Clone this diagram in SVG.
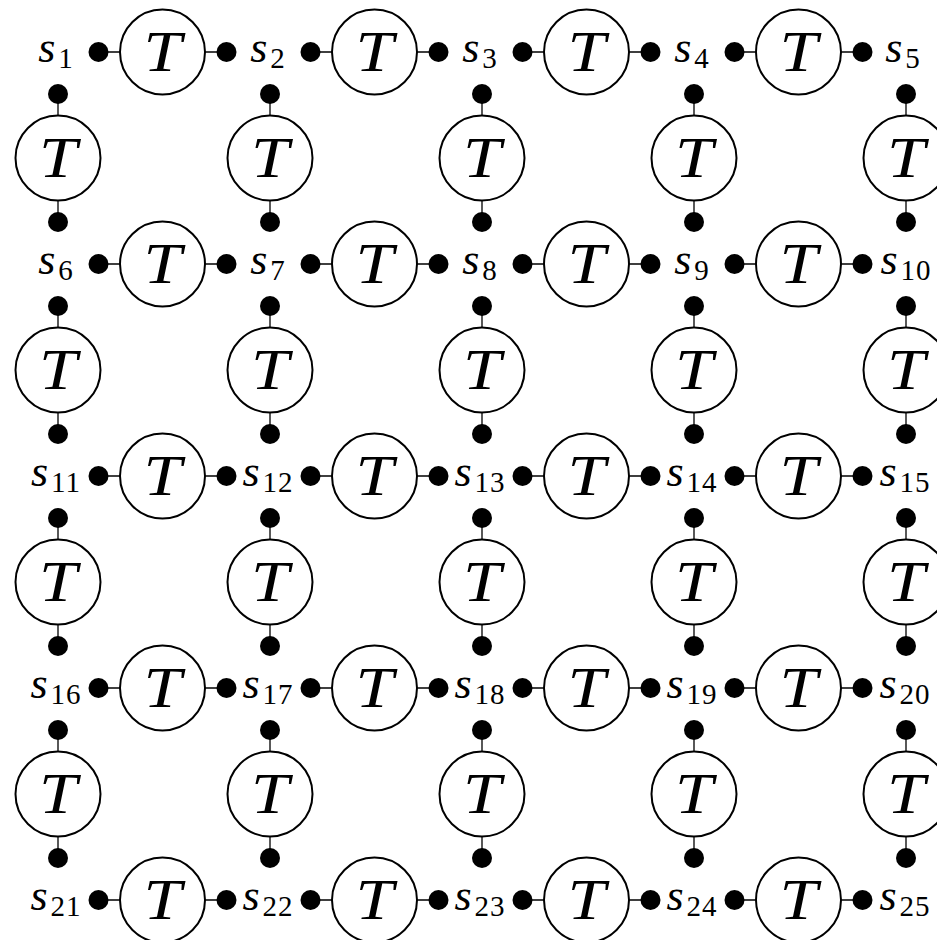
<svg xmlns="http://www.w3.org/2000/svg" width="937" height="940" viewBox="0 0 937 940">
  <defs>
    <style>
      .bg { fill: #ffffff; }
      .tensor .body { fill: #ffffff; stroke: #000000; stroke-width: 2; }
      .tensor .dot { fill: #000000; }
      .tensor text { font-family: "Liberation Serif", "DejaVu Serif", serif; font-style: italic; font-size: 58px; fill: #000000; text-anchor: middle; }
      .legs path { fill: none; stroke: #000000; stroke-width: 1.3; }
      .site text { font-family: "Liberation Serif", "DejaVu Serif", serif; fill: #000000; text-anchor: middle; }
      .site .var { font-style: italic; font-size: 44px; }
      .site .idx { font-size: 29px; letter-spacing: 1px; }
    </style>
  </defs>
  <rect class="bg" x="0" y="0" width="937" height="940"/>

  <!-- short legs joining each tensor to its open-index dots -->
  <g id="connectors" class="legs">
    <path d="M98.5 52H120M205 52H226.5M310.5 52H332M417 52H438.5M522.5 52H544M629 52H650.5M734.5 52H756M841 52H862.5"/>
    <path d="M98.5 264H120M205 264H226.5M310.5 264H332M417 264H438.5M522.5 264H544M629 264H650.5M734.5 264H756M841 264H862.5"/>
    <path d="M98.5 476H120M205 476H226.5M310.5 476H332M417 476H438.5M522.5 476H544M629 476H650.5M734.5 476H756M841 476H862.5"/>
    <path d="M98.5 688H120M205 688H226.5M310.5 688H332M417 688H438.5M522.5 688H544M629 688H650.5M734.5 688H756M841 688H862.5"/>
    <path d="M98.5 900H120M205 900H226.5M310.5 900H332M417 900H438.5M522.5 900H544M629 900H650.5M734.5 900H756M841 900H862.5"/>
    <path d="M58 94V115.5M58 200.5V222M58 306V327.5M58 412.5V434M58 518V539.5M58 624.5V646M58 730V751.5M58 836.5V858"/>
    <path d="M270 94V115.5M270 200.5V222M270 306V327.5M270 412.5V434M270 518V539.5M270 624.5V646M270 730V751.5M270 836.5V858"/>
    <path d="M482 94V115.5M482 200.5V222M482 306V327.5M482 412.5V434M482 518V539.5M482 624.5V646M482 730V751.5M482 836.5V858"/>
    <path d="M694 94V115.5M694 200.5V222M694 306V327.5M694 412.5V434M694 518V539.5M694 624.5V646M694 730V751.5M694 836.5V858"/>
    <path d="M906 94V115.5M906 200.5V222M906 306V327.5M906 412.5V434M906 518V539.5M906 624.5V646M906 730V751.5M906 836.5V858"/>
  </g>

  <!-- horizontal-bond tensors (rows of the lattice) -->
  <g id="th-0-0" class="tensor" transform="translate(162.5,52)"><circle class="body" r="42.5"/><text y="19" textLength="38" lengthAdjust="spacingAndGlyphs">T</text><circle class="dot" cx="-64" r="10"/><circle class="dot" cx="64" r="10"/></g>
  <g id="th-0-1" class="tensor" transform="translate(374.5,52)"><circle class="body" r="42.5"/><text y="19" textLength="38" lengthAdjust="spacingAndGlyphs">T</text><circle class="dot" cx="-64" r="10"/><circle class="dot" cx="64" r="10"/></g>
  <g id="th-0-2" class="tensor" transform="translate(586.5,52)"><circle class="body" r="42.5"/><text y="19" textLength="38" lengthAdjust="spacingAndGlyphs">T</text><circle class="dot" cx="-64" r="10"/><circle class="dot" cx="64" r="10"/></g>
  <g id="th-0-3" class="tensor" transform="translate(798.5,52)"><circle class="body" r="42.5"/><text y="19" textLength="38" lengthAdjust="spacingAndGlyphs">T</text><circle class="dot" cx="-64" r="10"/><circle class="dot" cx="64" r="10"/></g>

  <g id="th-1-0" class="tensor" transform="translate(162.5,264)"><circle class="body" r="42.5"/><text y="19" textLength="38" lengthAdjust="spacingAndGlyphs">T</text><circle class="dot" cx="-64" r="10"/><circle class="dot" cx="64" r="10"/></g>
  <g id="th-1-1" class="tensor" transform="translate(374.5,264)"><circle class="body" r="42.5"/><text y="19" textLength="38" lengthAdjust="spacingAndGlyphs">T</text><circle class="dot" cx="-64" r="10"/><circle class="dot" cx="64" r="10"/></g>
  <g id="th-1-2" class="tensor" transform="translate(586.5,264)"><circle class="body" r="42.5"/><text y="19" textLength="38" lengthAdjust="spacingAndGlyphs">T</text><circle class="dot" cx="-64" r="10"/><circle class="dot" cx="64" r="10"/></g>
  <g id="th-1-3" class="tensor" transform="translate(798.5,264)"><circle class="body" r="42.5"/><text y="19" textLength="38" lengthAdjust="spacingAndGlyphs">T</text><circle class="dot" cx="-64" r="10"/><circle class="dot" cx="64" r="10"/></g>

  <g id="th-2-0" class="tensor" transform="translate(162.5,476)"><circle class="body" r="42.5"/><text y="19" textLength="38" lengthAdjust="spacingAndGlyphs">T</text><circle class="dot" cx="-64" r="10"/><circle class="dot" cx="64" r="10"/></g>
  <g id="th-2-1" class="tensor" transform="translate(374.5,476)"><circle class="body" r="42.5"/><text y="19" textLength="38" lengthAdjust="spacingAndGlyphs">T</text><circle class="dot" cx="-64" r="10"/><circle class="dot" cx="64" r="10"/></g>
  <g id="th-2-2" class="tensor" transform="translate(586.5,476)"><circle class="body" r="42.5"/><text y="19" textLength="38" lengthAdjust="spacingAndGlyphs">T</text><circle class="dot" cx="-64" r="10"/><circle class="dot" cx="64" r="10"/></g>
  <g id="th-2-3" class="tensor" transform="translate(798.5,476)"><circle class="body" r="42.5"/><text y="19" textLength="38" lengthAdjust="spacingAndGlyphs">T</text><circle class="dot" cx="-64" r="10"/><circle class="dot" cx="64" r="10"/></g>

  <g id="th-3-0" class="tensor" transform="translate(162.5,688)"><circle class="body" r="42.5"/><text y="19" textLength="38" lengthAdjust="spacingAndGlyphs">T</text><circle class="dot" cx="-64" r="10"/><circle class="dot" cx="64" r="10"/></g>
  <g id="th-3-1" class="tensor" transform="translate(374.5,688)"><circle class="body" r="42.5"/><text y="19" textLength="38" lengthAdjust="spacingAndGlyphs">T</text><circle class="dot" cx="-64" r="10"/><circle class="dot" cx="64" r="10"/></g>
  <g id="th-3-2" class="tensor" transform="translate(586.5,688)"><circle class="body" r="42.5"/><text y="19" textLength="38" lengthAdjust="spacingAndGlyphs">T</text><circle class="dot" cx="-64" r="10"/><circle class="dot" cx="64" r="10"/></g>
  <g id="th-3-3" class="tensor" transform="translate(798.5,688)"><circle class="body" r="42.5"/><text y="19" textLength="38" lengthAdjust="spacingAndGlyphs">T</text><circle class="dot" cx="-64" r="10"/><circle class="dot" cx="64" r="10"/></g>

  <g id="th-4-0" class="tensor" transform="translate(162.5,900)"><circle class="body" r="42.5"/><text y="19" textLength="38" lengthAdjust="spacingAndGlyphs">T</text><circle class="dot" cx="-64" r="10"/><circle class="dot" cx="64" r="10"/></g>
  <g id="th-4-1" class="tensor" transform="translate(374.5,900)"><circle class="body" r="42.5"/><text y="19" textLength="38" lengthAdjust="spacingAndGlyphs">T</text><circle class="dot" cx="-64" r="10"/><circle class="dot" cx="64" r="10"/></g>
  <g id="th-4-2" class="tensor" transform="translate(586.5,900)"><circle class="body" r="42.5"/><text y="19" textLength="38" lengthAdjust="spacingAndGlyphs">T</text><circle class="dot" cx="-64" r="10"/><circle class="dot" cx="64" r="10"/></g>
  <g id="th-4-3" class="tensor" transform="translate(798.5,900)"><circle class="body" r="42.5"/><text y="19" textLength="38" lengthAdjust="spacingAndGlyphs">T</text><circle class="dot" cx="-64" r="10"/><circle class="dot" cx="64" r="10"/></g>

  <!-- vertical-bond tensors (columns of the lattice) -->
  <g id="tv-0-0" class="tensor" transform="translate(58,158)"><circle class="body" r="42.5"/><text y="19" textLength="38" lengthAdjust="spacingAndGlyphs">T</text><circle class="dot" cy="-64" r="10"/><circle class="dot" cy="64" r="10"/></g>
  <g id="tv-0-1" class="tensor" transform="translate(270,158)"><circle class="body" r="42.5"/><text y="19" textLength="38" lengthAdjust="spacingAndGlyphs">T</text><circle class="dot" cy="-64" r="10"/><circle class="dot" cy="64" r="10"/></g>
  <g id="tv-0-2" class="tensor" transform="translate(482,158)"><circle class="body" r="42.5"/><text y="19" textLength="38" lengthAdjust="spacingAndGlyphs">T</text><circle class="dot" cy="-64" r="10"/><circle class="dot" cy="64" r="10"/></g>
  <g id="tv-0-3" class="tensor" transform="translate(694,158)"><circle class="body" r="42.5"/><text y="19" textLength="38" lengthAdjust="spacingAndGlyphs">T</text><circle class="dot" cy="-64" r="10"/><circle class="dot" cy="64" r="10"/></g>
  <g id="tv-0-4" class="tensor" transform="translate(906,158)"><circle class="body" r="42.5"/><text y="19" textLength="38" lengthAdjust="spacingAndGlyphs">T</text><circle class="dot" cy="-64" r="10"/><circle class="dot" cy="64" r="10"/></g>

  <g id="tv-1-0" class="tensor" transform="translate(58,370)"><circle class="body" r="42.5"/><text y="19" textLength="38" lengthAdjust="spacingAndGlyphs">T</text><circle class="dot" cy="-64" r="10"/><circle class="dot" cy="64" r="10"/></g>
  <g id="tv-1-1" class="tensor" transform="translate(270,370)"><circle class="body" r="42.5"/><text y="19" textLength="38" lengthAdjust="spacingAndGlyphs">T</text><circle class="dot" cy="-64" r="10"/><circle class="dot" cy="64" r="10"/></g>
  <g id="tv-1-2" class="tensor" transform="translate(482,370)"><circle class="body" r="42.5"/><text y="19" textLength="38" lengthAdjust="spacingAndGlyphs">T</text><circle class="dot" cy="-64" r="10"/><circle class="dot" cy="64" r="10"/></g>
  <g id="tv-1-3" class="tensor" transform="translate(694,370)"><circle class="body" r="42.5"/><text y="19" textLength="38" lengthAdjust="spacingAndGlyphs">T</text><circle class="dot" cy="-64" r="10"/><circle class="dot" cy="64" r="10"/></g>
  <g id="tv-1-4" class="tensor" transform="translate(906,370)"><circle class="body" r="42.5"/><text y="19" textLength="38" lengthAdjust="spacingAndGlyphs">T</text><circle class="dot" cy="-64" r="10"/><circle class="dot" cy="64" r="10"/></g>

  <g id="tv-2-0" class="tensor" transform="translate(58,582)"><circle class="body" r="42.5"/><text y="19" textLength="38" lengthAdjust="spacingAndGlyphs">T</text><circle class="dot" cy="-64" r="10"/><circle class="dot" cy="64" r="10"/></g>
  <g id="tv-2-1" class="tensor" transform="translate(270,582)"><circle class="body" r="42.5"/><text y="19" textLength="38" lengthAdjust="spacingAndGlyphs">T</text><circle class="dot" cy="-64" r="10"/><circle class="dot" cy="64" r="10"/></g>
  <g id="tv-2-2" class="tensor" transform="translate(482,582)"><circle class="body" r="42.5"/><text y="19" textLength="38" lengthAdjust="spacingAndGlyphs">T</text><circle class="dot" cy="-64" r="10"/><circle class="dot" cy="64" r="10"/></g>
  <g id="tv-2-3" class="tensor" transform="translate(694,582)"><circle class="body" r="42.5"/><text y="19" textLength="38" lengthAdjust="spacingAndGlyphs">T</text><circle class="dot" cy="-64" r="10"/><circle class="dot" cy="64" r="10"/></g>
  <g id="tv-2-4" class="tensor" transform="translate(906,582)"><circle class="body" r="42.5"/><text y="19" textLength="38" lengthAdjust="spacingAndGlyphs">T</text><circle class="dot" cy="-64" r="10"/><circle class="dot" cy="64" r="10"/></g>

  <g id="tv-3-0" class="tensor" transform="translate(58,794)"><circle class="body" r="42.5"/><text y="19" textLength="38" lengthAdjust="spacingAndGlyphs">T</text><circle class="dot" cy="-64" r="10"/><circle class="dot" cy="64" r="10"/></g>
  <g id="tv-3-1" class="tensor" transform="translate(270,794)"><circle class="body" r="42.5"/><text y="19" textLength="38" lengthAdjust="spacingAndGlyphs">T</text><circle class="dot" cy="-64" r="10"/><circle class="dot" cy="64" r="10"/></g>
  <g id="tv-3-2" class="tensor" transform="translate(482,794)"><circle class="body" r="42.5"/><text y="19" textLength="38" lengthAdjust="spacingAndGlyphs">T</text><circle class="dot" cy="-64" r="10"/><circle class="dot" cy="64" r="10"/></g>
  <g id="tv-3-3" class="tensor" transform="translate(694,794)"><circle class="body" r="42.5"/><text y="19" textLength="38" lengthAdjust="spacingAndGlyphs">T</text><circle class="dot" cy="-64" r="10"/><circle class="dot" cy="64" r="10"/></g>
  <g id="tv-3-4" class="tensor" transform="translate(906,794)"><circle class="body" r="42.5"/><text y="19" textLength="38" lengthAdjust="spacingAndGlyphs">T</text><circle class="dot" cy="-64" r="10"/><circle class="dot" cy="64" r="10"/></g>

  <!-- site variables s1..s25 -->
  <g id="s1" class="site"><text x="56" y="62"><tspan class="var">s</tspan><tspan class="idx" dx="3" dy="6">1</tspan></text></g>
  <g id="s2" class="site"><text x="268" y="62"><tspan class="var">s</tspan><tspan class="idx" dx="3" dy="6">2</tspan></text></g>
  <g id="s3" class="site"><text x="480" y="62"><tspan class="var">s</tspan><tspan class="idx" dx="3" dy="6">3</tspan></text></g>
  <g id="s4" class="site"><text x="692" y="62"><tspan class="var">s</tspan><tspan class="idx" dx="3" dy="6">4</tspan></text></g>
  <g id="s5" class="site"><text x="903" y="62"><tspan class="var">s</tspan><tspan class="idx" dx="3" dy="6">5</tspan></text></g>

  <g id="s6" class="site"><text x="56" y="274"><tspan class="var">s</tspan><tspan class="idx" dx="3" dy="6">6</tspan></text></g>
  <g id="s7" class="site"><text x="268" y="274"><tspan class="var">s</tspan><tspan class="idx" dx="3" dy="6">7</tspan></text></g>
  <g id="s8" class="site"><text x="480" y="274"><tspan class="var">s</tspan><tspan class="idx" dx="3" dy="6">8</tspan></text></g>
  <g id="s9" class="site"><text x="692" y="274"><tspan class="var">s</tspan><tspan class="idx" dx="3" dy="6">9</tspan></text></g>
  <g id="s10" class="site"><text x="906" y="274"><tspan class="var">s</tspan><tspan class="idx" dx="3" dy="6">10</tspan></text></g>

  <g id="s11" class="site"><text x="56" y="486"><tspan class="var">s</tspan><tspan class="idx" dx="3" dy="6">11</tspan></text></g>
  <g id="s12" class="site"><text x="268" y="486"><tspan class="var">s</tspan><tspan class="idx" dx="3" dy="6">12</tspan></text></g>
  <g id="s13" class="site"><text x="480" y="486"><tspan class="var">s</tspan><tspan class="idx" dx="3" dy="6">13</tspan></text></g>
  <g id="s14" class="site"><text x="692" y="486"><tspan class="var">s</tspan><tspan class="idx" dx="3" dy="6">14</tspan></text></g>
  <g id="s15" class="site"><text x="905" y="486"><tspan class="var">s</tspan><tspan class="idx" dx="3" dy="6">15</tspan></text></g>

  <g id="s16" class="site"><text x="56" y="698"><tspan class="var">s</tspan><tspan class="idx" dx="3" dy="6">16</tspan></text></g>
  <g id="s17" class="site"><text x="268" y="698"><tspan class="var">s</tspan><tspan class="idx" dx="3" dy="6">17</tspan></text></g>
  <g id="s18" class="site"><text x="480" y="698"><tspan class="var">s</tspan><tspan class="idx" dx="3" dy="6">18</tspan></text></g>
  <g id="s19" class="site"><text x="692" y="698"><tspan class="var">s</tspan><tspan class="idx" dx="3" dy="6">19</tspan></text></g>
  <g id="s20" class="site"><text x="905" y="698"><tspan class="var">s</tspan><tspan class="idx" dx="3" dy="6">20</tspan></text></g>

  <g id="s21" class="site"><text x="56" y="910"><tspan class="var">s</tspan><tspan class="idx" dx="3" dy="6">21</tspan></text></g>
  <g id="s22" class="site"><text x="268" y="910"><tspan class="var">s</tspan><tspan class="idx" dx="3" dy="6">22</tspan></text></g>
  <g id="s23" class="site"><text x="480" y="910"><tspan class="var">s</tspan><tspan class="idx" dx="3" dy="6">23</tspan></text></g>
  <g id="s24" class="site"><text x="692" y="910"><tspan class="var">s</tspan><tspan class="idx" dx="3" dy="6">24</tspan></text></g>
  <g id="s25" class="site"><text x="905" y="910"><tspan class="var">s</tspan><tspan class="idx" dx="3" dy="6">25</tspan></text></g>
</svg>
